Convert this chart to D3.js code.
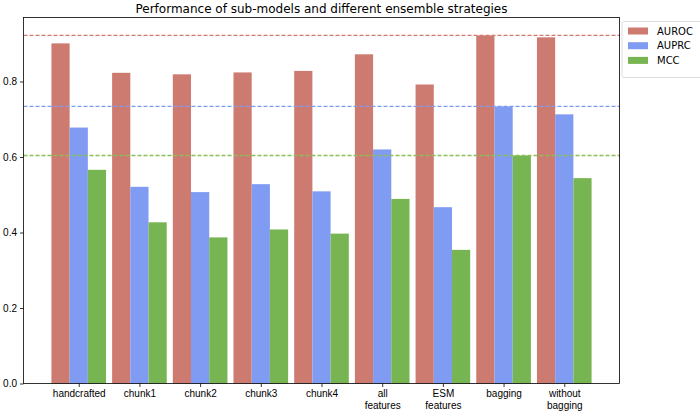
<!DOCTYPE html>
<html lang="en">
<head>
<meta charset="UTF-8">
<title>Performance of sub-models and different ensemble strategies</title>
<script src="https://d3js.org/d3.v7.min.js"></script>
<style>
  body { margin: 0; background: #fff; }
  svg { font-family: "DejaVu Sans", sans-serif; }
  .tick text { font-size: 10px; fill: #000; }
  .tick line { stroke: #000; stroke-width: 0.8; }
  .domain { display: none; }
</style>
</head>
<body>
<svg id="chart"></svg>
<script>
// data
const categories = ["handcrafted", "chunk1", "chunk2", "chunk3", "chunk4",
                    "all\nfeatures", "ESM\nfeatures", "bagging", "without\nbagging"];
const seriesNames = ["AUROC", "AUPRC", "MCC"];
const auroc = [0.901, 0.823, 0.819, 0.824, 0.828, 0.872, 0.792, 0.922, 0.917];
const auprc = [0.678, 0.521, 0.507, 0.528, 0.509, 0.620, 0.467, 0.734, 0.713];
const mcc   = [0.566, 0.427, 0.387, 0.408, 0.397, 0.489, 0.354, 0.604, 0.544];
const yTicks = [0.0, 0.2, 0.4, 0.6, 0.8];
const colors = ["#cd7b70", "#7f9bf2", "#77b553"];
const lineColors = ["#d07a70", "#7f9bf2", "#8cbf5a"];

const series = [auroc, auprc, mcc];
// dashed reference lines at the bagging scores
const refIdx = categories.indexOf("bagging");

const width = 700, height = 414;
const margin = {left: 23.5, right: 80.5, top: 17.5, bottom: 30.5};
const plotW = width - margin.left - margin.right;
const plotH = height - margin.top - margin.bottom;

const svg = d3.select("#chart").attr("width", width).attr("height", height);

const x = d3.scaleLinear().domain([-0.91, categories.length - 1 + 0.91])
            .range([margin.left, margin.left + plotW]);
const y = d3.scaleLinear().domain([0, 0.9695])
            .range([margin.top + plotH, margin.top]);
const barW = x(0.3) - x(0);

// bars
series.forEach((vals, s) => {
  svg.append("g").selectAll("rect")
     .data(vals)
     .enter()
     .append("rect")
     .attr("x", (d, i) => x(i + (s - 1) * 0.3 - 0.15))
     .attr("y", d => y(d))
     .attr("width", barW)
     .attr("height", d => y(0) - y(d))
     .attr("fill", colors[s]);
});

// reference lines
const refLines = svg.append("g").attr("class", "ref-lines");
series.forEach((vals, s) => {
  refLines.append("path")
     .attr("d", `M${margin.left},${y(vals[refIdx])}H${margin.left + plotW}`)
     .style("stroke", lineColors[s])
     .style("stroke-width", "1.3px")
     .style("stroke-dasharray", "4,2")
     .style("fill", "none");
});

// axes
const xAxis = d3.axisBottom(x).tickValues(d3.range(categories.length))
                .tickSize(3.5).tickPadding(3).tickFormat(() => "");
const gx = svg.append("g")
   .attr("transform", `translate(0,${margin.top + plotH})`)
   .call(xAxis);
gx.selectAll(".tick text").each(function(d) {
  const lines = categories[d].split("\n");
  const t = d3.select(this);
  lines.forEach((ln, k) => {
    t.append("tspan").attr("x", 0).attr("dy", k === 0 ? "0.71em" : "1.15em").text(ln);
  });
});

const yAxis = d3.axisLeft(y).tickValues(yTicks).tickSize(3.5).tickPadding(3)
                .tickFormat(d3.format(".1f"));
svg.append("g").attr("transform", `translate(${margin.left},0)`).call(yAxis);

// frame
svg.append("rect")
   .attr("x", margin.left).attr("y", margin.top)
   .attr("width", plotW).attr("height", plotH)
   .attr("fill", "none").attr("stroke", "#000").attr("stroke-width", 0.8);

// title
svg.append("text")
   .attr("x", margin.left + plotW / 2).attr("y", 12.5)
   .attr("text-anchor", "middle").attr("font-size", 12)
   .text("Performance of sub-models and different ensemble strategies");

// legend
const lg = svg.append("g").attr("transform", `translate(${margin.left + plotW + 2.5},${margin.top + 4})`);
lg.append("rect").attr("width", 80).attr("height", 56)
  .attr("rx", 2).attr("fill", "#fff").attr("stroke", "#d6d6d6").attr("stroke-width", 0.8);
seriesNames.forEach((n, k) => {
  lg.append("rect").attr("x", 6).attr("y", 6 + k * 14.7).attr("width", 20).attr("height", 7)
    .attr("fill", colors[k]);
  lg.append("text").attr("x", 35).attr("y", 9.5 + k * 14.7).attr("dy", "0.35em")
    .attr("font-size", 10).text(n);
});
</script>
</body>
</html>
